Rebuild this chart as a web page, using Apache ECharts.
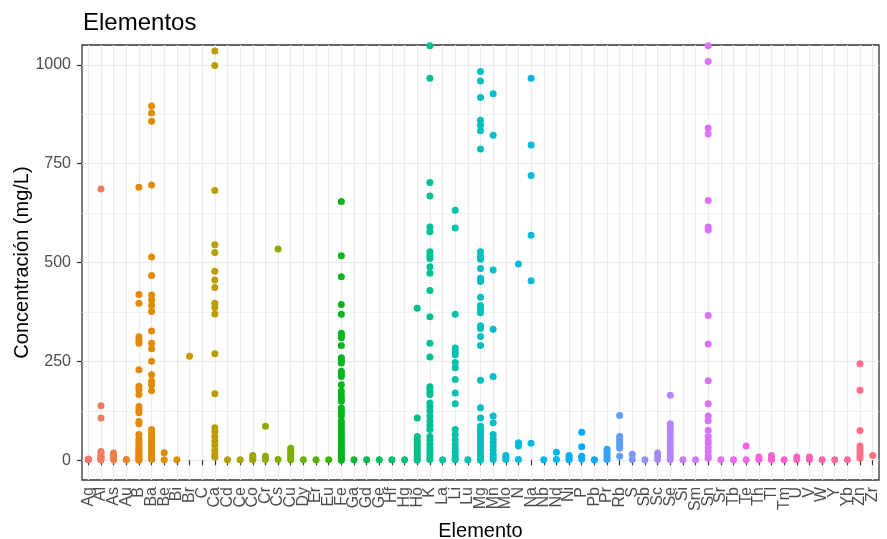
<!DOCTYPE html>
<html>
<head>
<meta charset="utf-8">
<script src="https://cdn.jsdelivr.net/npm/echarts@6/dist/echarts.min.js"></script>
<style>html,body{margin:0;padding:0;background:#fff}#c{width:887px;height:539px}</style>
</head>
<body>
<div id="c"></div>
<script>
const categories = ['Ag','Al','As','Au','B','Ba','Be','Bi','Br','C','Ca','Cd','Ce','Co','Cr','Cs','Cu','Dy','Er','Eu','Fe','Ga','Gd','Ge','Hf','Hg','Ho','K','La','Li','Lu','Mg','Mn','Mo','N','Na','Nb','Nd','Ni','P','Pb','Pr','Rb','S','Sb','Sc','Se','Si','Sm','Sn','Sr','Tb','Te','Th','Tl','Tm','U','V','W','Y','Yb','Zn','Zr'];
const yTicks = [0, 250, 500, 750, 1000];
const yMinorTicks = [125, 375, 625, 875];

const v_Ag = [1, 2, 3];
const v_Al = [686, 138, 107, 22, 18, 12, 8, 5, 2, 1];
const v_As = [18, 14, 10, 6, 3, 1];
const v_Au = [1, 2];
const v_B  = [690, 419, 397, 312, 303, 296, 229, 187, 178, 166, 136, 128, 120, 98, 92, 65, 55, 48, 42, 36, 30, 25, 20, 16, 12, 8, 5, 2, 0];
const v_Ba = [896, 878, 857, 696, 514, 467, 418, 405, 391, 376, 327, 296, 282, 250, 216, 200, 191, 176, 78, 70, 62, 55, 48, 40, 34, 28, 22, 16, 11, 6, 2];
const v_Be = [19, 1];
const v_Bi = [1];
const v_Br = [263];
const v_C  = [];
const v_Ca = [1035, 998, 682, 545, 525, 478, 456, 437, 397, 386, 370, 269, 168, 82, 72, 60, 48, 38, 25, 15, 8];
const v_Cd = [1];
const v_Ce = [1];
const v_Co = [12, 6, 1];
const v_Cr = [86, 10, 5, 2];
const v_Cs = [534, 2];
const v_Cu = [30, 24, 18, 12, 6, 1];
const v_Dy = [1];
const v_Er = [1];
const v_Eu = [1];
const v_Fe = [654, 517, 464, 394, 369, 321, 315, 310, 290, 259, 252, 246, 225, 218, 212, 191, 175, 165, 157, 149, 132, 125, 118, 112, 99, 92, 85, 78, 70, 63, 56, 49, 42, 36, 30, 24, 18, 12, 7, 3, 0];
const v_Ga = [1];
const v_Gd = [1];
const v_Ge = [1];
const v_Hf = [1];
const v_Hg = [1];
const v_Ho = [384, 107, 60, 52, 45, 38, 30, 22, 15, 8, 3, 0];
const v_K  = [1048, 966, 702, 668, 590, 578, 527, 518, 510, 489, 473, 429, 363, 296, 261, 186, 180, 172, 166, 145, 135, 125, 112, 100, 88, 78, 60, 50, 40, 30, 22, 15, 8, 2];
const v_La = [1];
const v_Li = [632, 587, 369, 284, 275, 267, 247, 234, 204, 170, 143, 78, 65, 52, 40, 30, 20, 12, 5, 1];
const v_Lu = [1];
const v_Mg = [983, 959, 917, 860, 848, 833, 787, 527, 516, 508, 485, 460, 452, 412, 391, 382, 373, 340, 333, 313, 290, 202, 133, 107, 86, 78, 70, 62, 55, 48, 40, 33, 26, 20, 14, 8, 3, 0];
const v_Mn = [927, 822, 481, 331, 212, 112, 95, 65, 55, 45, 35, 25, 15, 8, 2];
const v_Mo = [12, 6, 2];
const v_N  = [496, 44, 36, 2];
const v_Na = [966, 797, 720, 569, 454, 43];
const v_Nb = [1];
const v_Nd = [20, 2];
const v_Ni = [12, 6, 1];
const v_P  = [71, 34, 10, 3];
const v_Pb = [1];
const v_Pr = [28, 22, 15, 8, 2];
const v_Rb = [113, 60, 52, 45, 38, 30, 10];
const v_S  = [15, 2];
const v_Sb = [1];
const v_Sc = [18, 10, 2];
const v_Se = [164, 92, 85, 75, 65, 55, 45, 35, 25, 15, 8, 2];
const v_Si = [1];
const v_Sm = [1];
const v_Sn = [1048, 1008, 840, 825, 657, 590, 582, 366, 294, 201, 143, 112, 100, 76, 60, 50, 42, 32, 22, 12, 5];
const v_Sr = [1];
const v_Tb = [1];
const v_Te = [36, 1];
const v_Th = [8, 2];
const v_Tl = [12, 6, 1];
const v_Tm = [1];
const v_U  = [8, 2];
const v_V  = [8, 2];
const v_W  = [1];
const v_Y  = [1];
const v_Yb = [1];
const v_Zn = [244, 177, 75, 36, 28, 20, 12, 5];
const v_Zr = [12];

const valueLists = [v_Ag, v_Al, v_As, v_Au, v_B, v_Ba, v_Be, v_Bi, v_Br, v_C, v_Ca, v_Cd, v_Ce, v_Co, v_Cr, v_Cs, v_Cu, v_Dy, v_Er, v_Eu, v_Fe, v_Ga, v_Gd, v_Ge, v_Hf, v_Hg, v_Ho, v_K, v_La, v_Li, v_Lu, v_Mg, v_Mn, v_Mo, v_N, v_Na, v_Nb, v_Nd, v_Ni, v_P, v_Pb, v_Pr, v_Rb, v_S, v_Sb, v_Sc, v_Se, v_Si, v_Sm, v_Sn, v_Sr, v_Tb, v_Te, v_Th, v_Tl, v_Tm, v_U, v_V, v_W, v_Y, v_Yb, v_Zn, v_Zr];

// ggplot2-like hue palette (HCL, c=100, l=65)
function hcl(h, c, l) {
  const hr = h * Math.PI / 180;
  const U = c * Math.cos(hr), V = c * Math.sin(hr);
  const Xn = 95.047, Yn = 100, Zn = 108.883;
  const den = Xn + 15 * Yn + 3 * Zn;
  const un = 4 * Xn / den, vn = 9 * Yn / den;
  const Y = l > 8 ? Yn * Math.pow((l + 16) / 116, 3) : Yn * l / 903.3;
  const u = U / (13 * l) + un, v = V / (13 * l) + vn;
  const X = Y * 9 * u / (4 * v);
  const Z = Y * (12 - 3 * u - 20 * v) / (4 * v);
  const x = X / 100, y = Y / 100, z = Z / 100;
  let r = 3.240479 * x - 1.537150 * y - 0.498535 * z;
  let g = -0.969256 * x + 1.875992 * y + 0.041556 * z;
  let b = 0.055648 * x - 0.204043 * y + 1.057311 * z;
  const gam = t => { t = t <= 0.0031308 ? 12.92 * t : 1.055 * Math.pow(t, 1 / 2.4) - 0.055; return Math.round(Math.max(0, Math.min(1, t)) * 255); };
  return 'rgb(' + gam(r) + ',' + gam(g) + ',' + gam(b) + ')';
}
const n = categories.length;
const colors = categories.map((_, i) => hcl(15 + 360 * i / n, 100, 65));

const FONT = 'Liberation Sans, Arial, sans-serif';
const gridColor = '#EBEBEB';
const gridSeries = {
  type: 'scatter', data: [], z: 0, silent: true, animation: false,
  markLine: {
    z: 0, zlevel: 0,
    silent: true, symbol: 'none', animation: false, label: { show: false },
    data: [].concat(
      yMinorTicks.map(v => ({ yAxis: v, lineStyle: { color: gridColor, width: 0.7, type: 'solid' } })),
      yTicks.map(v => ({ yAxis: v, lineStyle: { color: gridColor, width: 1.2, type: 'solid' } })),
      categories.map(c => ({ xAxis: c, lineStyle: { color: gridColor, width: 1.2, type: 'solid' } }))
    )
  }
};

const pointSeries = categories.map((c, i) => ({
  type: 'scatter', name: c, z: 6, animation: false,
  symbolSize: 7,
  itemStyle: { color: colors[i], opacity: 1, borderWidth: 0 },
  emphasis: { disabled: true },
  data: valueLists[i].map(v => [c, v])
}));

const chart = echarts.init(document.getElementById('c'), null, { renderer: 'canvas' });
chart.setOption({
  backgroundColor: '#fff',
  animation: false,
  title: {
    text: 'Elementos', left: 78, top: 6,
    textStyle: { fontFamily: FONT, fontSize: 24, fontWeight: 'normal', color: '#000' }
  },
  grid: { left: 82, right: 8, top: 45, bottom: 59, outerBoundsMode: 'none', containLabel: false, show: true, borderColor: '#333333', borderWidth: 1.3, backgroundColor: 'transparent' },
  xAxis: {
    type: 'category', data: categories, boundaryGap: true,
    name: 'Elemento', nameLocation: 'middle', nameGap: 41, nameMoveOverlap: false,
    nameTextStyle: { fontFamily: FONT, fontSize: 20, color: '#000' },
    axisLine: { show: false },
    axisTick: { show: true, alignWithLabel: true, interval: 0, length: 5, lineStyle: { color: '#333333', width: 1.2 } },
    axisLabel: { interval: 0, rotate: 90, margin: 7, padding: [13, 0, 0, 0], hideOverlap: false, fontFamily: FONT, fontSize: 16, color: '#4D4D4D' },
    splitLine: { show: false }
  },
  yAxis: {
    type: 'value', min: -50, max: 1050,
    name: 'Concentración (mg/L)', nameLocation: 'middle', nameGap: 50, nameMoveOverlap: false,
    nameTextStyle: { fontFamily: FONT, fontSize: 20, color: '#000' },
    axisLine: { show: false },
    axisTick: { show: true, length: 5, customValues: yTicks, lineStyle: { color: '#333333', width: 1.2 } },
    axisLabel: { margin: 11, customValues: yTicks, formatter: v => String(v), fontFamily: FONT, fontSize: 16, color: '#4D4D4D' },
    splitLine: { show: false }
  },
  series: [gridSeries].concat(pointSeries)
});
</script>
</body>
</html>
